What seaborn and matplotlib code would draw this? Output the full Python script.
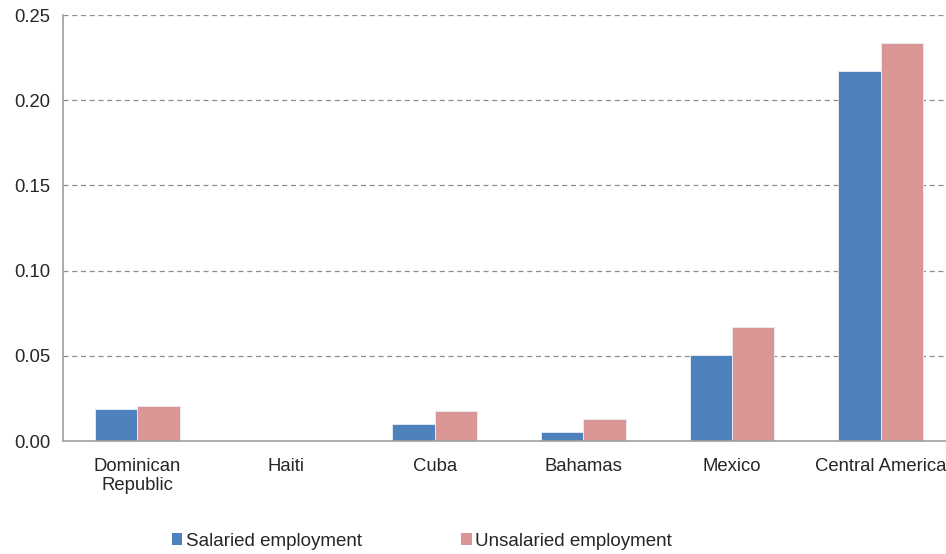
import matplotlib
matplotlib.use("Agg")
import matplotlib.pyplot as plt
import seaborn as sns
import pandas as pd
import numpy as np

categories = ["Dominican\nRepublic", "Haiti", "Cuba", "Bahamas", "Mexico", "Central America"]
salaried = [0.0186, 0.0, 0.0100, 0.0055, 0.0505, 0.2173]
unsalaried = [0.0207, 0.0, 0.0176, 0.0127, 0.0669, 0.2337]
series_names = ["Salaried employment", "Unsalaried employment"]
yticks = [0.00, 0.05, 0.10, 0.15, 0.20, 0.25]
colors = ["#4F81BD", "#D99694"]

df = pd.DataFrame({
    "Country": categories * 2,
    "Value": salaried + unsalaried,
    "Series": [series_names[0]] * len(categories) + [series_names[1]] * len(categories),
})

sns.set_style("white")
plt.rcParams["font.family"] = ["Liberation Sans", "DejaVu Sans"]

fig = plt.figure(figsize=(9.46, 5.54), dpi=100)
ax = fig.add_axes([63 / 946, 1 - 441 / 554, 892 / 946, (441 - 15) / 554])

sns.barplot(data=df, x="Country", y="Value", hue="Series", palette=colors,
            saturation=1, width=0.57, ax=ax, edgecolor="#E8EEF6", linewidth=0.6,
            legend=False, zorder=3)

ax.set_ylim(0, 0.25)
ax.set_xlim(-0.5, len(categories) - 0.5)
ax.set_yticks(yticks)
ax.set_yticklabels([f"{v:.2f}" for v in yticks], fontsize=13.3)
ax.set_xlabel("")
ax.set_ylabel("")
ax.tick_params(axis="x", which="major", length=0, labelsize=13.3, pad=12)
for lbl in ax.get_xticklabels():
    lbl.set_linespacing(1.2)
ax.set_xticks(np.arange(-0.5, len(categories), 1.0), minor=True)
ax.tick_params(axis="x", which="minor", length=5, color="#A0A0A0", width=1, direction="out")
ax.tick_params(axis="y", length=5, color="#A0A0A0", width=1, direction="out", pad=4)

for y in yticks[1:]:
    ax.axhline(y, color="#8C8C8C", linestyle=(0, (4, 3)), linewidth=0.9, zorder=1)

for s in ["top", "right"]:
    ax.spines[s].set_visible(False)
for s in ["left", "bottom"]:
    ax.spines[s].set_color("#A0A0A0")
    ax.spines[s].set_linewidth(1.2)
ax.spines["bottom"].set_zorder(4)

from matplotlib.patches import Patch
handles = [Patch(facecolor=c, edgecolor="none") for c in colors]
fig.legend(handles, series_names, loc="center", bbox_to_anchor=(422 / 946, 1 - 541 / 554),
           ncol=2, frameon=False, fontsize=13.5, handlelength=0.55, handleheight=0.55,
           handletextpad=0.2, columnspacing=5.3)

fig.savefig("out.png", dpi=100)
